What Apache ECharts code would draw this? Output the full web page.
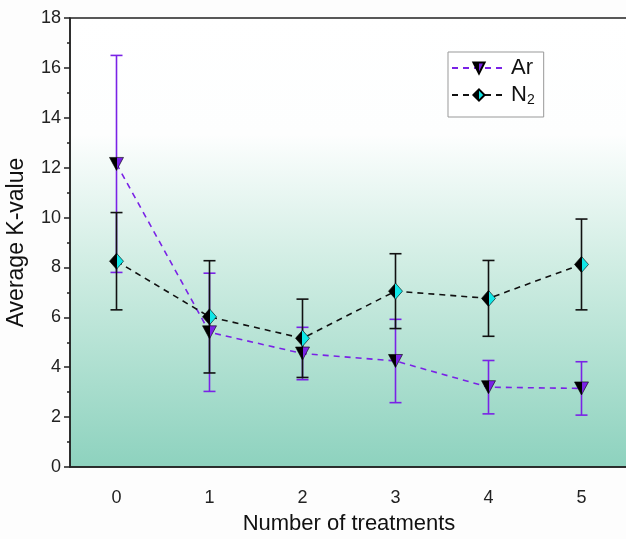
<!DOCTYPE html>
<html>
<head>
<meta charset="utf-8">
<script src="https://cdn.jsdelivr.net/npm/echarts@6/dist/echarts.min.js"></script>
<style>
  html, body { margin: 0; padding: 0; background: #fdfdfd; }
  #chartDiv { width: 626px; height: 539px; }
</style>
</head>
<body>
<div id="chartDiv"></div>
<script>
// 数据
var categories = ['0', '1', '2', '3', '4', '5'];
var arMean = [12.15, 5.4, 4.55, 4.25, 3.2, 3.15];
var arErr = [4.35, 2.37, 1.05, 1.67, 1.07, 1.07];
var n2Mean = [8.25, 6.02, 5.16, 7.05, 6.76, 8.12];
var n2Err = [1.95, 2.25, 1.57, 1.5, 1.52, 1.82];
var yTicks = [0, 2, 4, 6, 8, 10, 12, 14, 16, 18];

var purple = '#7a22e6';
var cyan = '#10e6e6';

// 左黑右彩的半色填充
function halfFill(c) {
    return {
        type: 'linear', x: 0, y: 0, x2: 1, y2: 0,
        colorStops: [
            {offset: 0, color: '#000'}, {offset: 0.5, color: '#000'},
            {offset: 0.5, color: c}, {offset: 1, color: c}
        ]
    };
}

function errData(mean, err) {
    return mean.map(function (m, i) { return [i, m - err[i], m + err[i]]; });
}

function errRender(color) {
    return function (params, api) {
        var lo = api.coord([api.value(0), api.value(1)]);
        var hi = api.coord([api.value(0), api.value(2)]);
        var w = 6;
        var st = {stroke: color, lineWidth: 1.6};
        return {
            type: 'group',
            children: [
                {type: 'line', shape: {x1: hi[0], y1: hi[1], x2: lo[0], y2: lo[1]}, style: st},
                {type: 'line', shape: {x1: hi[0] - w, y1: hi[1], x2: hi[0] + w, y2: hi[1]}, style: st},
                {type: 'line', shape: {x1: lo[0] - w, y1: lo[1], x2: lo[0] + w, y2: lo[1]}, style: st}
            ]
        };
    };
}

var Chart1 = echarts.init(document.getElementById('chartDiv'));

var option = {
    backgroundColor: '#fdfdfd',
    animation: false,
    textStyle: {fontFamily: 'Liberation Sans, Arial, sans-serif'},
    grid: {
        left: 70, top: 18, width: 558, height: 449,
        outerBoundsMode: 'none',
        show: true,
        borderColor: '#222', borderWidth: 1.5,
        backgroundColor: {
            type: 'linear', x: 0, y: 0, x2: 0, y2: 1,
            colorStops: [
                {offset: 0, color: '#ffffff'},
                {offset: 0.26, color: '#fdfefe'},
                {offset: 0.55, color: '#d0ede3'},
                {offset: 1, color: '#8dd2be'}
            ]
        }
    },
    legend: {
        left: 448, top: 52,
        orient: 'vertical',
        data: ['Ar', 'N2'],
        itemWidth: 54, itemHeight: 14, itemGap: 4,
        padding: [5, 9, 10, 3],
        borderColor: '#999', borderWidth: 1,
        backgroundColor: '#ffffff',
        formatter: function (name) {
            return name === 'N2' ? '{n|N}{s|2}' : '{n|' + name + '}';
        },
        textStyle: {
            color: '#111',
            rich: {
                n: {fontSize: 22, lineHeight: 22, color: '#111', fontFamily: 'Liberation Sans'},
                s: {fontSize: 14, lineHeight: 22, color: '#111', fontFamily: 'Liberation Sans', padding: [10, 0, 0, 0]}
            }
        }
    },
    xAxis: {
        type: 'category',
        data: categories,
        boundaryGap: true,
        name: 'Number of treatments',
        nameLocation: 'middle',
        nameGap: 46,
        nameTextStyle: {fontSize: 22, color: '#111'},
        axisLine: {lineStyle: {color: '#222', width: 1.5}},
        axisTick: {alignWithLabel: true, length: 6, lineStyle: {color: '#222', width: 1.5}},
        axisLabel: {fontSize: 18, color: '#222', margin: 22},
        splitLine: {show: false}
    },
    yAxis: {
        type: 'value',
        min: yTicks[0], max: yTicks[yTicks.length - 1], interval: 2,
        name: 'Average K-value',
        nameLocation: 'middle',
        nameGap: 42,
        nameTextStyle: {fontSize: 23, color: '#111'},
        axisLine: {show: true, lineStyle: {color: '#222', width: 1.5}},
        axisTick: {show: true, length: 6, lineStyle: {color: '#222', width: 1.5}},
        minorTick: {show: true, splitNumber: 2, length: 3, lineStyle: {color: '#222', width: 1.5}},
        axisLabel: {fontSize: 18, color: '#222', margin: 9},
        splitLine: {show: false}
    },
    series: [
        {
            name: 'Ar err', type: 'custom', z: 2,
            data: errData(arMean, arErr),
            renderItem: errRender(purple),
            silent: true
        },
        {
            name: 'N2 err', type: 'custom', z: 2,
            data: errData(n2Mean, n2Err),
            renderItem: errRender('#111'),
            silent: true
        },
        {
            name: 'Ar', type: 'line', z: 3,
            data: arMean,
            symbol: 'path://M0,0 L10,0 L5,9 Z',
            symbolSize: [14, 13],
            lineStyle: {color: purple, width: 1.6, type: [6, 5]},
            itemStyle: {color: halfFill(purple), borderColor: '#000', borderWidth: 0.6}
        },
        {
            name: 'N2', type: 'line', z: 4,
            data: n2Mean,
            symbol: 'diamond',
            symbolSize: [14, 16],
            lineStyle: {color: '#111', width: 1.6, type: [6, 5]},
            itemStyle: {color: halfFill(cyan), borderColor: '#000', borderWidth: 0.6}
        }
    ]
};

Chart1.setOption(option);
</script>
</body>
</html>
